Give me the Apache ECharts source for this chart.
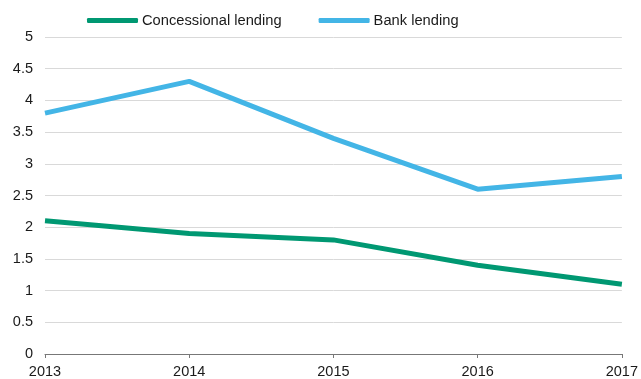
<!DOCTYPE html>
<html>
<head>
<meta charset="utf-8">
<script src="https://cdn.jsdelivr.net/npm/echarts@6/dist/echarts.min.js"></script>
<style>
  html, body { margin: 0; padding: 0; background: #fff; }
  #chart { width: 641px; height: 379px; }
</style>
</head>
<body>
<div id="chart"></div>
<script>
// Lending by year (values in the chart's units)
const years = ['2013', '2014', '2015', '2016', '2017'];
const concessionalLending = [2.1, 1.9, 1.8, 1.4, 1.1];
const bankLending = [3.8, 4.3, 3.4, 2.6, 2.8];

const FONT = '"Liberation Sans", Arial, Helvetica, sans-serif';

const chart = echarts.init(document.getElementById('chart'), null, { renderer: 'canvas' });
chart.setOption({
  animation: false,
  textStyle: { fontFamily: FONT },
  legend: {
    top: 8,
    left: 82,
    itemWidth: 51,
    itemHeight: 5,
    itemGap: 37,
    icon: 'roundRect',
    textStyle: { fontSize: 14.7, color: '#1a1a1a', fontFamily: FONT, padding: [0, 0, 0, -1] },
    data: ['Concessional lending', 'Bank lending']
  },
  grid: { left: 45, right: 16, top: 37, bottom: 24 },
  xAxis: {
    type: 'category',
    data: years,
    boundaryGap: false,
    axisLine: { lineStyle: { color: '#777', width: 1 } },
    axisTick: { show: true, length: 4, lineStyle: { color: '#777' } },
    axisLabel: { fontSize: 14.5, color: '#1a1a1a', margin: 10, fontFamily: FONT },
    splitLine: { show: false }
  },
  yAxis: {
    type: 'value',
    min: 0,
    max: 5,
    interval: 0.5,
    axisLine: { show: false },
    axisTick: { show: false },
    axisLabel: { fontSize: 14.5, color: '#1a1a1a', margin: 12, fontFamily: FONT },
    splitLine: { lineStyle: { color: '#d9d9d9', width: 1 } }
  },
  series: [
    {
      name: 'Concessional lending',
      type: 'line',
      data: concessionalLending,
      symbol: 'none',
      lineStyle: { color: '#009872', width: 5 },
      itemStyle: { color: '#009872' }
    },
    {
      name: 'Bank lending',
      type: 'line',
      data: bankLending,
      symbol: 'none',
      lineStyle: { color: '#43b5e6', width: 5 },
      itemStyle: { color: '#43b5e6' }
    }
  ]
});
</script>
</body>
</html>
